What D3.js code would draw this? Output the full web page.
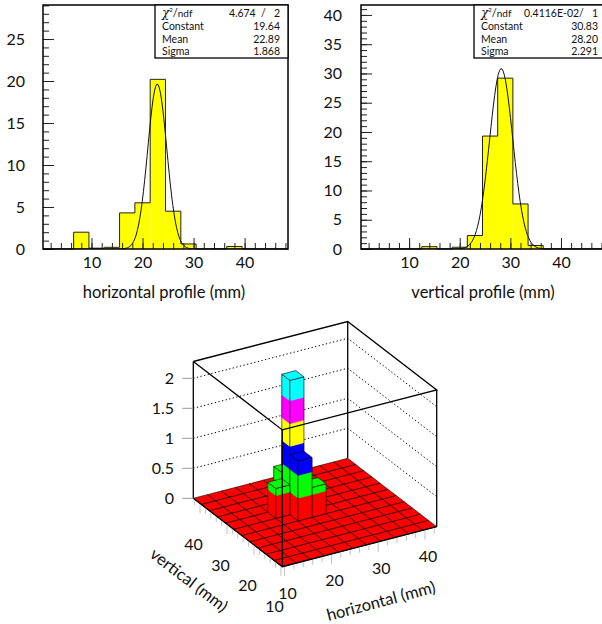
<!DOCTYPE html>
<html>
<head>
<meta charset="utf-8">
<script src="https://cdn.jsdelivr.net/npm/d3@7/dist/d3.min.js"></script>
<style>
  body { margin: 0; background: #fff; }
  svg text { font-family: Lato, "Open Sans", sans-serif; fill: #111; }
</style>
</head>
<body>
<div id="chart"></div>
<script>
// ---- data ----
// 16 bins of 3 mm between 0.5 and 48.5
const binEdges = [0.5, 3.5, 6.5, 9.5, 12.5, 15.5, 18.5, 21.5, 24.5, 27.5, 30.5, 33.5, 36.5, 39.5, 42.5, 45.5, 48.5];
const horizCounts = [0, 0, 2.0, 0.1, 0.2, 4.3, 5.5, 20.2, 4.5, 0.6, 0, 0, 0.3, 0, 0, 0];
const vertCounts  = [0, 0, 0, 0, 0.4, 0, 0.3, 2.3, 19.3, 29.2, 7.7, 0.6, 0, 0, 0, 0];

// gaussian fit results (from the stats boxes)
const fitConst = [19.64, 30.83];
const fitMean  = [22.89, 28.20];
const fitSigma = [1.868, 2.291];
const fitChi   = ["4.674  /   2", "0.4116E-02/   1"];

const xTicks = [10, 20, 30, 40];
const leftYTicks = [0, 5, 10, 15, 20, 25];
const rightYTicks = [0, 5, 10, 15, 20, 25, 30, 35, 40];

// lego plot: 11 x 11 bins of 3 mm from 9.5 to 42.5
const legoEdges = [9.5, 12.5, 15.5, 18.5, 21.5, 24.5, 27.5, 30.5, 33.5, 36.5, 39.5, 42.5];
const legoH = [23, 23, 23, 20, 26];     // horizontal bin centre
const legoV = [29, 26, 32, 29, 26];     // vertical bin centre
const legoZ = [2.24, 1.0, 0.6, 0.5, 0.5];
const zTicks = [0, 0.5, 1, 1.5, 2];
const zGrid = [0.5, 1, 1.5, 2];
const floorTicks = [10, 20, 30, 40];
const levelColors = ["#ff0000", "#00ff00", "#0000ff", "#ffff00", "#ff00ff", "#00ffff"];

const W = 602, H = 624;
const svg = d3.select("#chart").append("svg")
    .attr("width", W).attr("height", H);
svg.append("rect").attr("width", W).attr("height", H).attr("fill", "#fff");

function drawHist(cfg) {
    const x = d3.scaleLinear().domain([0.5, 48.5]).range([cfg.left, cfg.right]);
    const y = d3.scaleLinear().domain([0, cfg.yMax]).range([cfg.bottom, cfg.top]);
    const g = svg.append("g");

    const clipId = "clip-" + cfg.id;
    svg.append("defs").append("clipPath").attr("id", clipId)
        .append("rect")
        .attr("x", cfg.left).attr("y", cfg.top)
        .attr("width", cfg.right - cfg.left).attr("height", cfg.bottom - cfg.top);

    // yellow bars
    g.selectAll("rect.bar")
        .data(cfg.counts.map((c, i) => ({c, lo: binEdges[i], hi: binEdges[i + 1]})).filter(d => d.c > 0))
        .join("rect")
        .attr("class", "bar")
        .attr("x", d => x(d.lo))
        .attr("width", d => x(d.hi) - x(d.lo))
        .attr("y", d => y(d.c))
        .attr("height", d => y(0) - y(d.c))
        .attr("fill", "#ffff00");

    // outline of the histogram
    const pts = [[0.5, 0]];
    cfg.counts.forEach((c, i) => pts.push([binEdges[i], c]));
    pts.push([48.5, cfg.counts[cfg.counts.length - 1]]);
    pts.push([48.5, 0]);
    g.append("path")
        .attr("d", d3.line().x(d => x(d[0])).y(d => y(d[1])).curve(d3.curveStepAfter)(pts))
        .attr("fill", "none").attr("stroke", "#222").attr("stroke-width", 1);

    // fit curve
    const k = cfg.fit;
    const fx = d3.range(0, 201).map(t => 0.5 + t * 48 / 200);
    g.append("path")
        .attr("clip-path", `url(#${clipId})`)
        .attr("d", d3.line()
            .x(d => x(d))
            .y(d => y(fitConst[k] * Math.exp(-0.5 * Math.pow((d - fitMean[k]) / fitSigma[k], 2))))(fx))
        .attr("fill", "none").attr("stroke", "#111").attr("stroke-width", 1);

    // axes with inner ticks
    const yAxis = g.append("g").attr("transform", `translate(${cfg.left},0)`)
        .call(d3.axisLeft(y).tickValues(cfg.yTicks).tickSize(-11).tickPadding(cfg.left - cfg.labelX));
    g.append("g").attr("transform", `translate(${cfg.left},0)`)
        .call(d3.axisLeft(y).tickValues(d3.range(0, cfg.yMax, 1)).tickSize(-6).tickFormat(""));
    const xAxis = g.append("g").attr("transform", `translate(0,${cfg.bottom})`)
        .call(d3.axisBottom(x).tickValues(xTicks).tickSize(-11).tickPadding(8));
    g.append("g").attr("transform", `translate(0,${cfg.bottom})`)
        .call(d3.axisBottom(x).tickValues(d3.range(2, 49, 2)).tickSize(-6).tickFormat(""));
    g.selectAll(".domain").remove();
    g.selectAll(".tick line").attr("stroke", "#222").attr("stroke-width", 1);
    [yAxis, xAxis].forEach(a => a.selectAll("text")
        .style("font-family", "Lato, sans-serif").attr("font-size", 16).attr("fill", "#111"));

    // frame
    g.append("rect")
        .attr("x", cfg.left).attr("y", cfg.top)
        .attr("width", cfg.right - cfg.left).attr("height", cfg.bottom - cfg.top)
        .attr("fill", "none").attr("stroke", "#000").attr("stroke-width", 1.5);

    // axis title
    g.append("text")
        .attr("x", cfg.titleX).attr("y", 298)
        .attr("text-anchor", "middle").attr("font-size", 16.5)
        .text(cfg.title);

    // stats box
    const sb = g.append("g");
    sb.append("rect")
        .attr("x", cfg.statLeft).attr("y", cfg.top)
        .attr("width", cfg.right - cfg.statLeft).attr("height", 53)
        .attr("fill", "#fff").attr("stroke", "#000").attr("stroke-width", 1.3);
    const rows = [
        ["chi", fitChi[k]],
        ["Constant", fitConst[k].toFixed(2)],
        ["Mean", fitMean[k].toFixed(2)],
        ["Sigma", fitSigma[k].toFixed(3)]
    ];
    rows.forEach((r, i) => {
        const yy = cfg.top + 12 + i * 12.8;
        const lab = sb.append("text").attr("x", cfg.statLeft + 7).attr("y", yy).attr("font-size", 10.5);
        if (r[0] === "chi") {
            lab.append("tspan").attr("font-size", 12).attr("font-family", "DejaVu Serif, serif").attr("font-style", "italic").text("χ");
            lab.append("tspan").attr("font-size", 6).attr("dy", -5).text("2");
            lab.append("tspan").attr("dy", 5).attr("font-size", 11).text("/");
            lab.append("tspan").attr("font-size", 10).text("ndf");
        } else {
            lab.text(r[0]);
        }
        sb.append("text").attr("x", cfg.right - cfg.statPad).attr("y", yy)
            .attr("text-anchor", "end").attr("font-size", 10.5)
            .attr("xml:space", "preserve")
            .text(r[1]);
    });
}

drawHist({id: "h", left: 43, right: 288, top: 5, bottom: 249, yMax: 29.05, yTicks: leftYTicks,
    labelX: 25, counts: horizCounts, fit: 0, title: "horizontal profile (mm)", titleX: 164,
    statLeft: 155, statPad: 8});
drawHist({id: "v", left: 361, right: 604, top: 5, bottom: 249, yMax: 41.7, yTicks: rightYTicks,
    labelX: 342, counts: vertCounts, fit: 1, title: "vertical profile (mm)", titleX: 483,
    statLeft: 474, statPad: 6});

// ---- lego plot ----
const zMax = 2.28;
const uS = d3.scaleLinear().domain([9.5, 42.5]).range([0, 1]);
const vS = d3.scaleLinear().domain([9.5, 42.5]).range([0, 1]);
const zS = d3.scaleLinear().domain([0, zMax]).range([0, 136.8]);
const origin = [282.3, 566.7], uVec = [154.4, -40], vVec = [-89, -68.4];
function P(u, v, z) {
    const a = uS(u), b = vS(v);
    return [origin[0] + a * uVec[0] + b * vVec[0], origin[1] + a * uVec[1] + b * vVec[1] - zS(z)];
}
const poly = pts => "M" + pts.map(p => p.join(",")).join("L") + "Z";
const line = d3.line();

const lego = svg.append("g");
const back = lego.append("g"), cells = lego.append("g"), front = lego.append("g");

// back walls: verticals and dotted z grid
[[9.5, 42.5], [42.5, 42.5], [42.5, 9.5]].forEach(c => {
    back.append("path").attr("d", line([P(c[0], c[1], 0), P(c[0], c[1], zMax)]))
        .attr("stroke", "#000").attr("stroke-width", 1.3);
});
zGrid.forEach(z => {
    back.append("path")
        .attr("d", line([P(9.5, 42.5, z), P(42.5, 42.5, z), P(42.5, 9.5, z)]))
        .attr("fill", "none").attr("stroke", "#000").attr("stroke-width", 1)
        .attr("stroke-dasharray", "1.3,2.4");
});

// grid of values
const n = legoEdges.length - 1;
const grid = d3.range(n).map(() => d3.range(n).map(() => 0));
const binOf = v => d3.bisectRight(legoEdges, v) - 1;
legoZ.forEach((z, k) => { grid[binOf(legoH[k])][binOf(legoV[k])] = z; });
const bandW = zMax / levelColors.length;
const level = z => Math.min(levelColors.length - 1, Math.floor(z / bandW));

// painter's order: back cells first
for (let i = n - 1; i >= 0; i--) {
    for (let j = n - 1; j >= 0; j--) {
        const u0 = legoEdges[i], u1 = legoEdges[i + 1], v0 = legoEdges[j], v1 = legoEdges[j + 1];
        const h = grid[i][j];
        if (h > 0) {
            const faces = [
                (za, zb) => [P(u0, v0, za), P(u0, v1, za), P(u0, v1, zb), P(u0, v0, zb)],
                (za, zb) => [P(u0, v0, za), P(u1, v0, za), P(u1, v0, zb), P(u0, v0, zb)]
            ];
            faces.forEach(f => {
                for (let b = 0; b <= level(h); b++) {
                    const za = b * bandW, zb = Math.min(h, (b + 1) * bandW);
                    cells.append("path").attr("d", poly(f(za, zb)))
                        .attr("fill", levelColors[b]).attr("stroke", levelColors[b]).attr("stroke-width", 0.4);
                }
                cells.append("path").attr("d", poly(f(0, h)))
                    .attr("fill", "none").attr("stroke", "#000").attr("stroke-width", 0.6);
            });
        }
        cells.append("path")
            .attr("d", poly([P(u0, v0, h), P(u1, v0, h), P(u1, v1, h), P(u0, v1, h)]))
            .attr("fill", levelColors[level(h)]).attr("stroke", "#000").attr("stroke-width", 0.6);
    }
}

// front box edges
const boxEdges = [
    [P(9.5, 42.5, 0), P(9.5, 9.5, 0), P(42.5, 9.5, 0)],
    [P(9.5, 9.5, 0), P(9.5, 9.5, zMax)],
    [P(9.5, 42.5, zMax), P(42.5, 42.5, zMax), P(42.5, 9.5, zMax), P(9.5, 9.5, zMax), P(9.5, 42.5, zMax)]
];
boxEdges.forEach(e => front.append("path").attr("d", line(e))
    .attr("fill", "none").attr("stroke", "#000").attr("stroke-width", 1.3));

// z axis
zTicks.forEach(z => {
    const p = P(9.5, 42.5, z);
    front.append("path").attr("d", line([[p[0] - 11, p[1]], p]))
        .attr("stroke", "#999").attr("stroke-width", 1);
    front.append("text").attr("x", 174).attr("y", p[1] + 5.5)
        .attr("text-anchor", "end").attr("font-size", 16).text(z);
});

// ticks hanging under the two front floor edges
d3.range(10, 43, 2).forEach(t => {
    const len = t % 10 === 0 ? 9 : 5;
    const pv = P(9.5, t, 0), pu = P(t, 9.5, 0);
    [pv, pu].forEach(p => front.append("path").attr("d", line([[p[0], p[1] + 1], [p[0], p[1] + 1 + len]]))
        .attr("stroke", "#bbb").attr("stroke-width", 0.9));
});
floorTicks.forEach(t => {
    const pv = P(9.5, t, 0), pu = P(t, 9.5, 0);
    front.append("text").attr("x", pv[0] - 6.5).attr("y", pv[1] + 46.5)
        .attr("text-anchor", "middle").attr("font-size", 16).text(t);
    front.append("text").attr("x", pu[0] + 3).attr("y", pu[1] + 32.5)
        .attr("text-anchor", "middle").attr("font-size", 16).text(t);
});
front.append("text")
    .attr("transform", "translate(189,580) rotate(37.5)")
    .attr("text-anchor", "middle").attr("dy", "0.35em").attr("font-size", 16.5)
    .text("vertical (mm)");
front.append("text")
    .attr("transform", "translate(381,601) rotate(-15)")
    .attr("text-anchor", "middle").attr("dy", "0.35em").attr("font-size", 16.5)
    .text("horizontal (mm)");
</script>
</body>
</html>
